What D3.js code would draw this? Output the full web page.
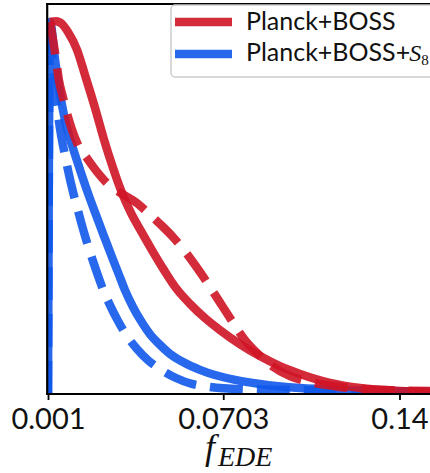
<!DOCTYPE html>
<html>
<head>
<meta charset="utf-8">
<script src="https://cdn.jsdelivr.net/npm/d3@7"></script>
<style>
  html, body { margin: 0; padding: 0; background: #fff; }
  svg { display: block; }
</style>
</head>
<body>
<svg id="chart" width="430" height="473"></svg>
<script>
// ---- data ----
const xTicks = [0.001, 0.0703, 0.14];
const xTickLabels = ["0.001", "0.0703", "0.14"];
const seriesNames = ["Planck+BOSS", "Planck+BOSS+S8"];

// Planck+BOSS, solid
const redSolidX = [0.0018,0.0042,0.0065,0.0089,0.0125,0.0156,0.0196,0.0231,0.0267,0.0303,0.0338,0.0378,0.0421,0.0469,0.0516,0.0572,0.0631,0.0690,0.0769,0.0848,0.0927,0.1007,0.1125,0.1244,0.1402,0.1560];
const redSolidY = [1.000,1.002,0.995,0.973,0.925,0.858,0.769,0.685,0.608,0.540,0.487,0.438,0.387,0.333,0.285,0.242,0.204,0.172,0.134,0.102,0.075,0.054,0.030,0.016,0.008,0.005];
// Planck+BOSS, dashed
const redDashX = [0.0018,0.0030,0.0042,0.0053,0.0069,0.0085,0.0105,0.0129,0.0164,0.0204,0.0243,0.0303,0.0362,0.0402,0.0453,0.0504,0.0560,0.0619,0.0674,0.0730,0.0789,0.0840,0.0896,0.0967,0.1046,0.1165,0.1323,0.1560];
const redDashY = [1.000,0.952,0.898,0.844,0.798,0.755,0.710,0.669,0.634,0.597,0.567,0.538,0.513,0.489,0.457,0.422,0.376,0.320,0.263,0.204,0.145,0.108,0.075,0.048,0.032,0.019,0.011,0.008];
// Planck+BOSS+S8, solid
const blueSolidX = [0.001,0.0018,0.0038,0.0057,0.0077,0.0105,0.0137,0.0168,0.0200,0.0231,0.0263,0.0291,0.0314,0.0346,0.0378,0.0413,0.0453,0.0492,0.0544,0.0611,0.0670,0.0750,0.0848,0.1007,0.1165,0.1323,0.1560];
const blueSolidY = [0.000,1.000,0.898,0.809,0.737,0.669,0.602,0.540,0.481,0.425,0.368,0.320,0.280,0.234,0.196,0.161,0.132,0.108,0.086,0.065,0.051,0.038,0.027,0.016,0.011,0.008,0.005];
// Planck+BOSS+S8, dashed
const blueDashX = [0.001,0.0018,0.0026,0.0034,0.0046,0.0057,0.0073,0.0089,0.0109,0.0129,0.0152,0.0176,0.0200,0.0227,0.0255,0.0287,0.0322,0.0362,0.0405,0.0453,0.0516,0.0579,0.0651,0.0769,0.0927,0.1165,0.1560];
const blueDashY = [0.000,1.000,0.919,0.844,0.772,0.715,0.656,0.602,0.543,0.492,0.435,0.382,0.333,0.282,0.239,0.196,0.156,0.121,0.091,0.067,0.043,0.027,0.019,0.013,0.011,0.008,0.005];

// ---- layout ----
const svg = d3.select("#chart");
const L = 48, R = 441, T = 3.4, B = 394;
const x = d3.scaleLinear().domain([0.001, 0.14]).range([L, 399.5]);
const y = d3.scaleLinear().domain([0, 1.05]).range([B, T]);
const RED = "#cf1426", BLUE = "#0f58ea";

svg.append("defs").append("clipPath").attr("id", "clip")
  .append("rect").attr("x", L).attr("y", T).attr("width", R - L).attr("height", B - T);

const line = d3.line().x(d => x(d[0])).y(d => y(d[1])).curve(d3.curveMonotoneX);
const series = [
  {xs: blueSolidX, ys: blueSolidY, color: BLUE, dash: null},
  {xs: blueDashX, ys: blueDashY, color: BLUE, dash: "33,14"},
  {xs: redSolidX, ys: redSolidY, color: RED, dash: null},
  {xs: redDashX, ys: redDashY, color: RED, dash: "33,14"}
];
const g = svg.append("g").attr("clip-path", "url(#clip)");
series.forEach(s => {
  g.append("path")
    .datum(s.xs.map((v, i) => [v, s.ys[i]]))
    .attr("d", line)
    .attr("fill", "none")
    .attr("stroke", s.color)
    .attr("stroke-opacity", 0.9)
    .attr("stroke-width", 8.5)
    .attr("stroke-dasharray", s.dash)
    .attr("stroke-linejoin", "round");
});

// spines
svg.append("line").attr("x1", 47.2).attr("x2", 47.2).attr("y1", 3).attr("y2", 395).attr("stroke", "#000").attr("stroke-width", 2.2);
svg.append("line").attr("x1", 46).attr("x2", 440).attr("y1", 394).attr("y2", 394).attr("stroke", "#000").attr("stroke-width", 2.2);
svg.append("line").attr("x1", 46).attr("x2", 440).attr("y1", 4).attr("y2", 4).attr("stroke", "#000").attr("stroke-width", 1.8);

// x axis ticks
const ax = svg.append("g").attr("transform", `translate(0,${B})`)
  .call(d3.axisBottom(x).tickValues(xTicks).tickFormat((d, i) => xTickLabels[i]).tickSize(6).tickPadding(6));
ax.select(".domain").remove();
ax.selectAll(".tick line").attr("stroke", "#000").attr("stroke-width", 1.8);
ax.selectAll(".tick text").attr("font-family", "Lato, sans-serif").attr("font-size", 29).attr("fill", "#111")
  .attr("y", 35).attr("dy", 0);

// x label f_EDE
const xl = svg.append("text").attr("x", 205).attr("y", 459)
  .attr("font-family", "'Liberation Serif', serif").attr("font-style", "italic").attr("fill", "#111");
xl.append("tspan").attr("font-size", 36).text("f");
xl.append("tspan").attr("font-size", 28).attr("dx", 3).attr("dy", 7).text("EDE");

// legend
const lg = svg.append("g");
lg.append("rect").attr("x", 171).attr("y", 5).attr("width", 290).attr("height", 72).attr("rx", 4)
  .attr("fill", "#fff").attr("fill-opacity", 0.8).attr("stroke", "#cccccc").attr("stroke-width", 1.5);
const legendItems = [
  {name: seriesNames[0], color: RED, yl: 22, yt: 30},
  {name: seriesNames[1], color: BLUE, yl: 54, yt: 61}
];
legendItems.forEach((it, i) => {
  lg.append("line").attr("x1", 175).attr("x2", 232).attr("y1", it.yl).attr("y2", it.yl)
    .attr("stroke", it.color).attr("stroke-opacity", 0.9).attr("stroke-width", 8.5);
  const t = lg.append("text").attr("x", 246).attr("y", it.yt)
    .attr("font-family", "Lato, sans-serif").attr("font-size", 25).attr("fill", "#111");
  if (i === 0) {
    t.text(it.name);
  } else {
    t.append("tspan").text("Planck+BOSS+");
    t.append("tspan").attr("font-family", "'Liberation Serif', serif").attr("font-style", "italic").attr("font-size", 24).attr("dx", -1).text("S");
    t.append("tspan").attr("font-family", "'Liberation Serif', serif").attr("font-size", 15).attr("dy", 4).text("8");
  }
});
</script>
</body>
</html>
